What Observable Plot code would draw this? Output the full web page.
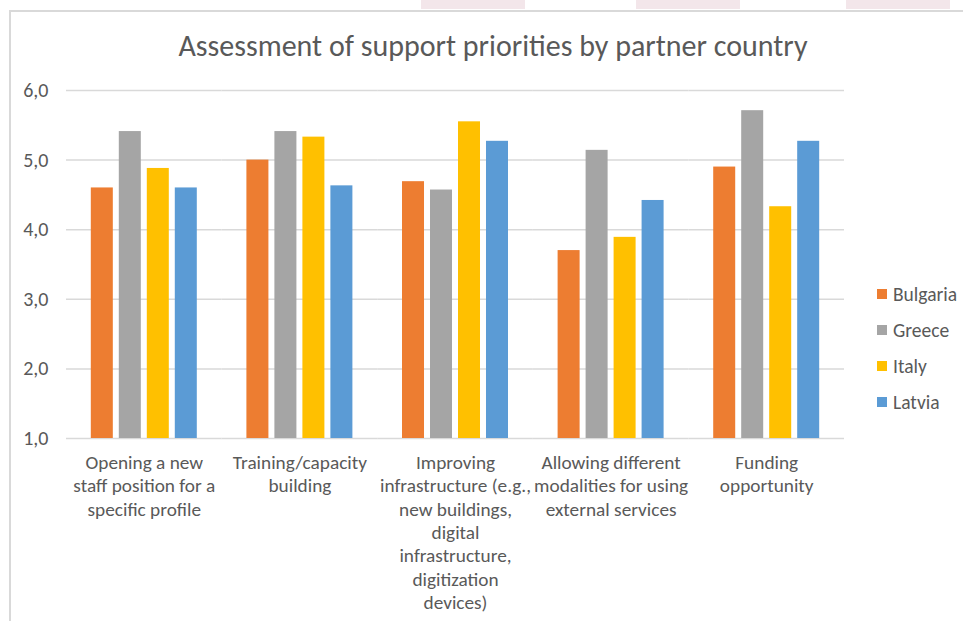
<!DOCTYPE html>
<html>
<head>
<meta charset="utf-8">
<script src="https://cdn.jsdelivr.net/npm/d3@7"></script>
<script src="https://cdn.jsdelivr.net/npm/@observablehq/plot@0.6"></script>
<style>
  html, body { margin: 0; padding: 0; background: #fff; }
  body { width: 963px; height: 621px; overflow: hidden; position: relative;
         font-family: Carlito, Calibri, Lato, sans-serif; color: #595959; }
  .tab { position: absolute; top: 0; height: 9px; width: 104px; background: #F3E6EA; }
  #frame { position: absolute; left: 9px; top: 10px; width: 1000px; height: 700px;
           border-left: 2px solid #D9D9D9; border-top: 2px solid #D9D9D9; }
  #title { position: absolute; left: 0; width: 986px; top: 28px; text-align: center;
           font-size: 30px; font-weight: 300; color: #595959; line-height: 36px; white-space: nowrap; }
  #chart { position: absolute; left: 11px; top: 71px; }
  #legend { position: absolute; left: 877px; top: 276px; }
  #legend .item { height: 36px; display: flex; align-items: center; font-size: 19.5px; color: #595959; white-space: nowrap; }
  #legend .sw { width: 10px; height: 10px; margin-right: 6px; flex: none; }
</style>
</head>
<body>
<div class="tab" style="left:421px"></div>
<div class="tab" style="left:636px"></div>
<div class="tab" style="left:846px"></div>
<div id="frame"></div>
<div id="title">Assessment of support priorities by partner country</div>
<div id="chart"></div>
<div id="legend"></div>
<script>
const categories = [
  "Opening a new staff position for a specific profile",
  "Training/capacity building",
  "Improving infrastructure (e.g., new buildings, digital infrastructure, digitization devices)",
  "Allowing different modalities for using external services",
  "Funding opportunity"
];
const categoryLabels = [
  "Opening a new\nstaff position for a\nspecific profile",
  "Training/capacity\nbuilding",
  "Improving\ninfrastructure (e.g.,\nnew buildings,\ndigital\ninfrastructure,\ndigitization\ndevices)",
  "Allowing different\nmodalities for using\nexternal services",
  "Funding\nopportunity"
];
const countries = ["Bulgaria", "Greece", "Italy", "Latvia"];
const colors = ["#ED7D31", "#A5A5A5", "#FFC000", "#5B9BD5"];
const bulgaria = [4.60, 5.00, 4.69, 3.70, 4.90];
const greece   = [5.41, 5.41, 4.57, 5.14, 5.71];
const italy    = [4.88, 5.33, 5.55, 3.89, 4.33];
const latvia   = [4.60, 4.63, 5.27, 4.42, 5.27];
const yTicks = [1, 2, 3, 4, 5, 6];
const yTickLabels = ["1,0", "2,0", "3,0", "4,0", "5,0", "6,0"];

const series = [bulgaria, greece, italy, latvia];
const data = [];
categories.forEach((c, i) => {
  countries.forEach((k, j) => data.push({category: c, country: k, value: series[j][i]}));
});

const labelOf = new Map(categories.map((c, i) => [c, categoryLabels[i]]));
const tickLabelOf = new Map(yTicks.map((t, i) => [t, yTickLabels[i]]));
const font = "Carlito, Calibri, Lato, sans-serif";

const chart = Plot.plot({
  width: 952,
  height: 550,
  marginTop: 19,
  marginBottom: 183,
  marginLeft: 55,
  marginRight: 119,
  style: {fontFamily: font, color: "#595959", background: "transparent", overflow: "visible"},
  fx: {domain: categories, padding: 0, round: false, axis: null, label: null},
  x: {domain: countries, paddingInner: 0.214, paddingOuter: 0.886, round: false, axis: null, label: null},
  y: {domain: [1, 6], axis: null, label: null},
  color: {domain: countries, range: colors},
  marks: [
    Plot.gridY(yTicks, {stroke: "#D9D9D9", strokeOpacity: 1, strokeWidth: 1.5}),
    Plot.barY(data, {fx: "category", x: "country", y1: 1, y2: "value", fill: "country"}),
    Plot.axisY(yTicks, {tickSize: 0, tickPadding: 18, fontSize: 20, label: null,
                        tickFormat: d => tickLabelOf.get(d), fill: "#595959"}),
    Plot.axisFx({anchor: "bottom", tickSize: 0, tickPadding: 14, fontSize: 19.3, lineHeight: 1.21, label: null,
                 tickFormat: d => labelOf.get(d), fill: "#595959"})
  ]
});
document.getElementById("chart").appendChild(chart);

const legend = d3.select("#legend");
countries.forEach((k, i) => {
  const it = legend.append("div").attr("class", "item");
  it.append("div").attr("class", "sw").style("background", colors[i]);
  it.append("span").text(k);
});
</script>
</body>
</html>
